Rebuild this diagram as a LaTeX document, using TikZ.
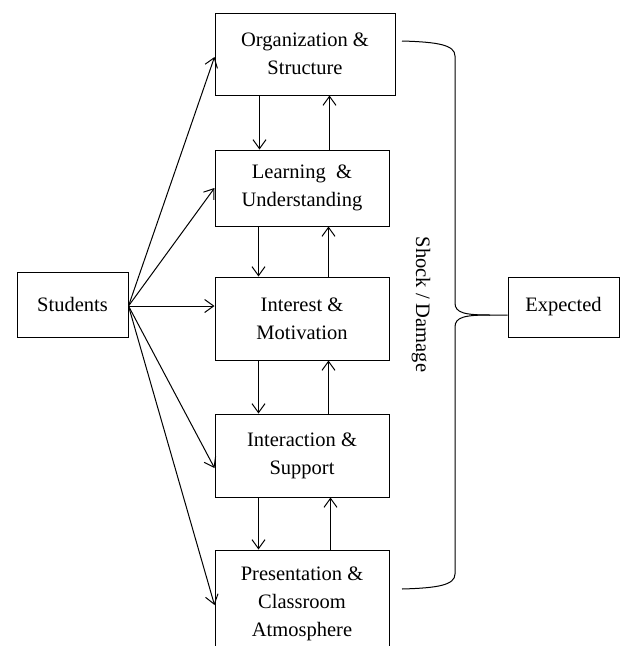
\documentclass[tikz,border=0pt]{standalone}
\usepackage{fontspec}
\setmainfont{Liberation Serif}
\usetikzlibrary{arrows.meta}
\begin{document}
\begin{tikzpicture}[x=1pt,y=-1pt,
  txt/.style={font=\fontsize{20.5}{28}\selectfont},
  box/.style={draw,line width=1pt,inner sep=0pt,align=center,txt},
  conn/.style={line width=1pt,-{Straight Barb[length=9pt,width=13pt,line width=1pt]}},
  brace/.style={line width=1pt}]
\useasboundingbox (0,0) rectangle (621,646);
\clip (0,0) rectangle (621,646);
% boxes
\node[box,minimum width=180pt,minimum height=82pt] (org) at (305,54) {Organization \&\\Structure};
\node[box,minimum width=174pt,minimum height=76pt] (learn) at (302,188) {Learning~~\&\\Understanding};
\node[box,minimum width=174pt,minimum height=83pt] (int) at (302,318.5) {Interest \&\\Motivation};
\node[box,minimum width=174pt,minimum height=83pt] (inter) at (302,455.5) {Interaction \&\\Support};
\node[box,minimum width=174pt,minimum height=108pt] (pres) at (302,604) {Presentation \&\\Classroom\\Atmosphere};
\node[box,minimum width=111pt,minimum height=65pt] (stu) at (72.5,304.5) {Students};
\node[box,minimum width=111pt,minimum height=60pt] (exp) at (563.5,307) {Expected};
\node[txt,rotate=-90] (shock) at (421,304.5) {Shock / Damage};
% arrows from students
\coordinate (src) at ([yshift=-1.5pt]stu.east);
\draw[conn] (src) -- ([yshift=-3pt]org.west);
\draw[conn] (src) -- (learn.west);
\draw[conn] (src) -- ([yshift=12.5pt]int.west);
\draw[conn] (src) -- ([yshift=-12.5pt]inter.west);
\draw[conn] (src) -- ([yshift=-1pt]pres.west);
% vertical arrows
\draw[conn] ([xshift=45pt]org.south west) -- ([xshift=45pt]learn.north west);
\draw[conn] ([xshift=115pt]learn.north west) -- ([xshift=115pt]org.south west);
\draw[conn] ([xshift=44pt]learn.south west) -- ([xshift=44pt]int.north west);
\draw[conn] ([xshift=114pt]int.north west) -- ([xshift=114pt]learn.south west);
\draw[conn] ([xshift=44pt]int.south west) -- ([xshift=44pt]inter.north west);
\draw[conn] ([xshift=114pt]inter.north west) -- ([xshift=114pt]int.south west);
\draw[conn] ([xshift=44pt]inter.south west) -- ([xshift=44pt]pres.north west);
\draw[conn] ([xshift=116pt]pres.north west) -- ([xshift=116pt]inter.south west);
% brace
\coordinate (btop) at (402,41);
\coordinate (bbot) at (402,589);
\coordinate (btip) at ([yshift=-8pt]exp.west);
\draw[brace] (btop) .. controls (438,42) and (455,45) .. (455,56) -- (455,303)
  .. controls (455,313) and (465,315) .. (490,315) -- (btip);
\draw[brace] (bbot) .. controls (438,588) and (455,585) .. (455,574) -- (455,327)
  .. controls (455,317) and (465,315) .. (490,315);
\end{tikzpicture}
\end{document}
